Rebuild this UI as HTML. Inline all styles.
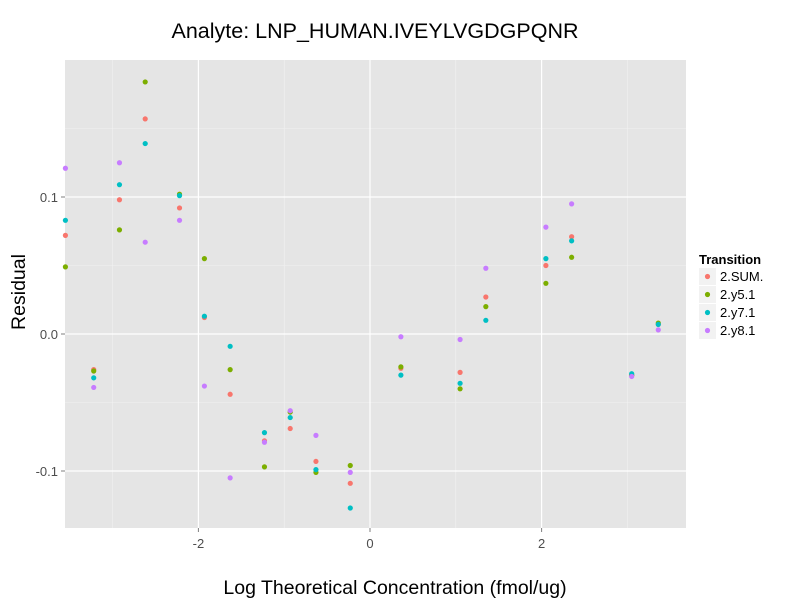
<!DOCTYPE html>
<html><head><meta charset="utf-8"><style>
body{margin:0;background:#fff;font-family:"Liberation Sans",sans-serif}
</style></head><body>
<svg id="c" width="800" height="600" xmlns="http://www.w3.org/2000/svg" font-family="Liberation Sans, sans-serif">
<text x="375" y="38" font-size="21.5" text-anchor="middle" fill="#000">Analyte: LNP_HUMAN.IVEYLVGDGPQNR</text>
<rect x="65" y="60" width="621" height="468" fill="#e5e5e5"/>
<g id="grid"></g>
<g id="pts"></g>
<g id="axes"></g>
<text x="395" y="594" font-size="19.5" text-anchor="middle">Log Theoretical Concentration (fmol/ug)</text>
<text transform="translate(25,292) rotate(-90)" font-size="19.5" text-anchor="middle">Residual</text>
<g>
<text x="699" y="264" font-size="13" font-weight="bold">Transition</text>
<g id="leg"></g>
</g>
</svg>
<script>
const xs=[-3.55,-3.22,-2.92,-2.62,-2.22,-1.93,-1.63,-1.23,-0.93,-0.63,-0.23,0.36,1.05,1.35,2.05,2.35,3.05,3.36];
const seriesNames=["2.SUM.","2.y5.1","2.y7.1","2.y8.1"];
const colors=["#F8766D","#7CAE00","#00BFC4","#C77CFF"];
const sumVals=[0.072,-0.026,0.098,0.157,0.092,0.012,-0.044,-0.078,-0.069,-0.093,-0.109,-0.025,-0.028,0.027,0.050,0.071,-0.030,0.007];
const y5Vals=[0.049,-0.027,0.076,0.184,0.102,0.055,-0.026,-0.097,-0.057,-0.101,-0.096,-0.024,-0.040,0.020,0.037,0.056,-0.030,0.008];
const y7Vals=[0.083,-0.032,0.109,0.139,0.101,0.013,-0.009,-0.072,-0.061,-0.099,-0.127,-0.030,-0.036,0.010,0.055,0.068,-0.029,0.007];
const y8Vals=[0.121,-0.039,0.125,0.067,0.083,-0.038,-0.105,-0.079,-0.056,-0.074,-0.101,-0.002,-0.004,0.048,0.078,0.095,-0.031,0.003];
const xTicks=[-2,0,2];const xTickLabels=["-2","0","2"];
const yTicks=[0.1,0,-0.1];const yTickLabels=["0.1","0.0","-0.1"];
const X=v=>370+v*85.8, Y=v=>334-v*1370;
const NS="http://www.w3.org/2000/svg";
function mk(p,t,a){const e=document.createElementNS(NS,t);for(const k in a)e.setAttribute(k,a[k]);p.appendChild(e);return e;}
const grid=document.getElementById('grid'),axes=document.getElementById('axes'),pts=document.getElementById('pts'),leg=document.getElementById('leg');
[-3,-1,1,3].forEach(v=>{const l=mk(grid,'line',{x1:X(v),x2:X(v),y1:60,y2:528,stroke:'#f2f2f2','stroke-width':0.6});

});
[0.15,0.05,-0.05].forEach(v=>{const l=mk(grid,'line',{x1:65,x2:686,y1:Y(v),y2:Y(v),stroke:'#f2f2f2','stroke-width':0.6});

});
xTicks.forEach((v,i)=>{const l=mk(grid,'line',{x1:X(v),x2:X(v),y1:60,y2:528,stroke:'#fff','stroke-width':1.2});


const t=mk(axes,'line',{x1:X(v),x2:X(v),y1:528,y2:532,stroke:'#7f7f7f'});


const tx=mk(axes,'text',{x:X(v),y:548,'font-size':13,'text-anchor':'middle',fill:'#4d4d4d'});tx.textContent=xTickLabels[i];

});
yTicks.forEach((v,i)=>{const l=mk(grid,'line',{x1:65,x2:686,y1:Y(v),y2:Y(v),stroke:'#fff','stroke-width':1.2});


const t=mk(axes,'line',{x1:61,x2:65,y1:Y(v),y2:Y(v),stroke:'#7f7f7f'});


const tx=mk(axes,'text',{x:58,y:Y(v)+5,'font-size':13,'text-anchor':'end',fill:'#4d4d4d'});tx.textContent=yTickLabels[i];

});
const all=[sumVals,y5Vals,y7Vals,y8Vals];
xs.forEach((x,i)=>{all.forEach((s,k)=>{const c=mk(pts,'circle',{cx:X(x),cy:Y(s[i]),r:2.6,fill:colors[k]});

});});
seriesNames.forEach((n,k)=>{const y=268+k*18;
const r=mk(leg,'rect',{x:699,y:y,width:17,height:17,fill:'#f2f2f2'});


const c=mk(leg,'circle',{cx:707.5,cy:y+8.5,r:2.6,fill:colors[k]});


const t=mk(leg,'text',{x:720,y:y+13,'font-size':13});t.textContent=n;

});
</script>
</body></html>
